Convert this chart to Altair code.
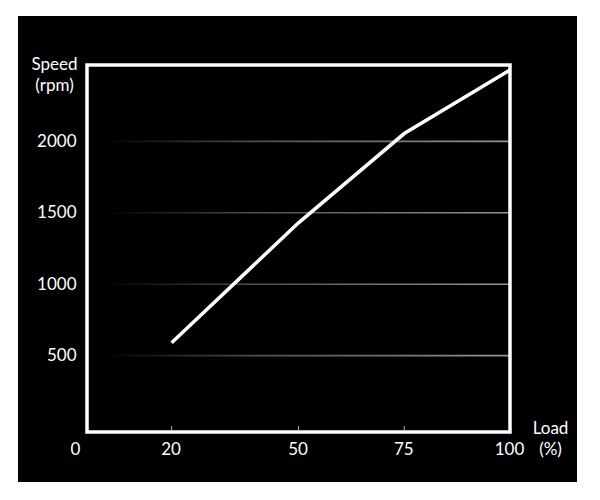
import altair as alt
import pandas as pd

# Data
load = [20, 50, 75, 100]
speed = [590, 1430, 2055, 2500]
x_ticks = [0, 20, 50, 75, 100]
inner_ticks = [20, 50, 75]
y_ticks = [500, 1000, 1500, 2000]

W, H = 423, 367
FONT = "Lato"
FS = 17

line_df = pd.DataFrame({"load": load, "speed": speed})
grid_df = pd.DataFrame({"speed": y_ticks})
tick_df = pd.DataFrame({"load": inner_ticks})
one = pd.DataFrame({"a": [0]})

xscale = alt.Scale(domain=[0, 100], nice=False, zero=False)
yscale = alt.Scale(domain=[0, 2500], nice=False)

background = alt.Chart(one).mark_rect(color="black").encode(
    x=alt.value(-69), x2=alt.value(W + 67),
    y=alt.value(-49), y2=alt.value(H + 50),
)

grad = {
    "gradient": "linear",
    "x1": 0, "x2": 1, "y1": 0, "y2": 0,
    "stops": [
        {"offset": 0, "color": "#000000"},
        {"offset": 0.04, "color": "#000000"},
        {"offset": 0.4, "color": "#505050"},
        {"offset": 1, "color": "#959595"},
    ],
}

grid = alt.Chart(grid_df).mark_bar(color=grad, size=1.6, orient="horizontal").encode(
    x=alt.value(0), x2=alt.value(W),
    y=alt.Y("speed:Q", scale=yscale),
)

frame = alt.Chart(one).mark_rect(filled=False, stroke="white", strokeWidth=3.5).encode(
    x=alt.value(0), x2=alt.value(W), y=alt.value(0), y2=alt.value(H),
)

ticks = alt.Chart(tick_df).mark_rule(color="#b0b0b0", strokeWidth=1).encode(
    x=alt.X("load:Q", scale=xscale),
    y=alt.value(H - 6), y2=alt.value(H - 1),
)

line = alt.Chart(line_df).mark_line(color="white", strokeWidth=3.5).encode(
    x=alt.X(
        "load:Q", scale=xscale,
        axis=alt.Axis(
            values=x_ticks, domain=False, ticks=False, grid=False, format="d",
            labelFlush=False, labelFont=FONT, labelFontSize=FS, labelColor="white",
            labelBaseline="middle", labelPadding=17,
            labelOffset=alt.condition("datum.value == 0", alt.value(-12), alt.value(-1)),
            title=["Load", "(%)"], titleFont=FONT, titleFontSize=FS, titleFontWeight="normal",
            titleColor="white", titleAngle=0, titleAlign="center", titleBaseline="middle",
            titleX=463, titleY=-4, titleLineHeight=21, zindex=1,
        ),
    ),
    y=alt.Y(
        "speed:Q", scale=yscale,
        axis=alt.Axis(
            values=y_ticks, domain=False, ticks=False, grid=False, format="d",
            labelFont=FONT, labelFontSize=FS, labelColor="white", labelPadding=11,
            title=["Speed", "(rpm)"], titleFont=FONT, titleFontSize=FS, titleFontWeight="normal",
            titleColor="white", titleAngle=0, titleAlign="center", titleBaseline="middle",
            titleX=-33, titleY=-1, titleLineHeight=21, zindex=1,
        ),
    ),
)

chart = alt.layer(background, grid, frame, ticks, line).properties(
    width=W, height=H, background="white",
    padding={"left": 10, "top": 8, "right": 0, "bottom": 0},
).configure_view(strokeWidth=0)

chart.save("out.html", embed_options={"renderer": "svg", "actions": False})
